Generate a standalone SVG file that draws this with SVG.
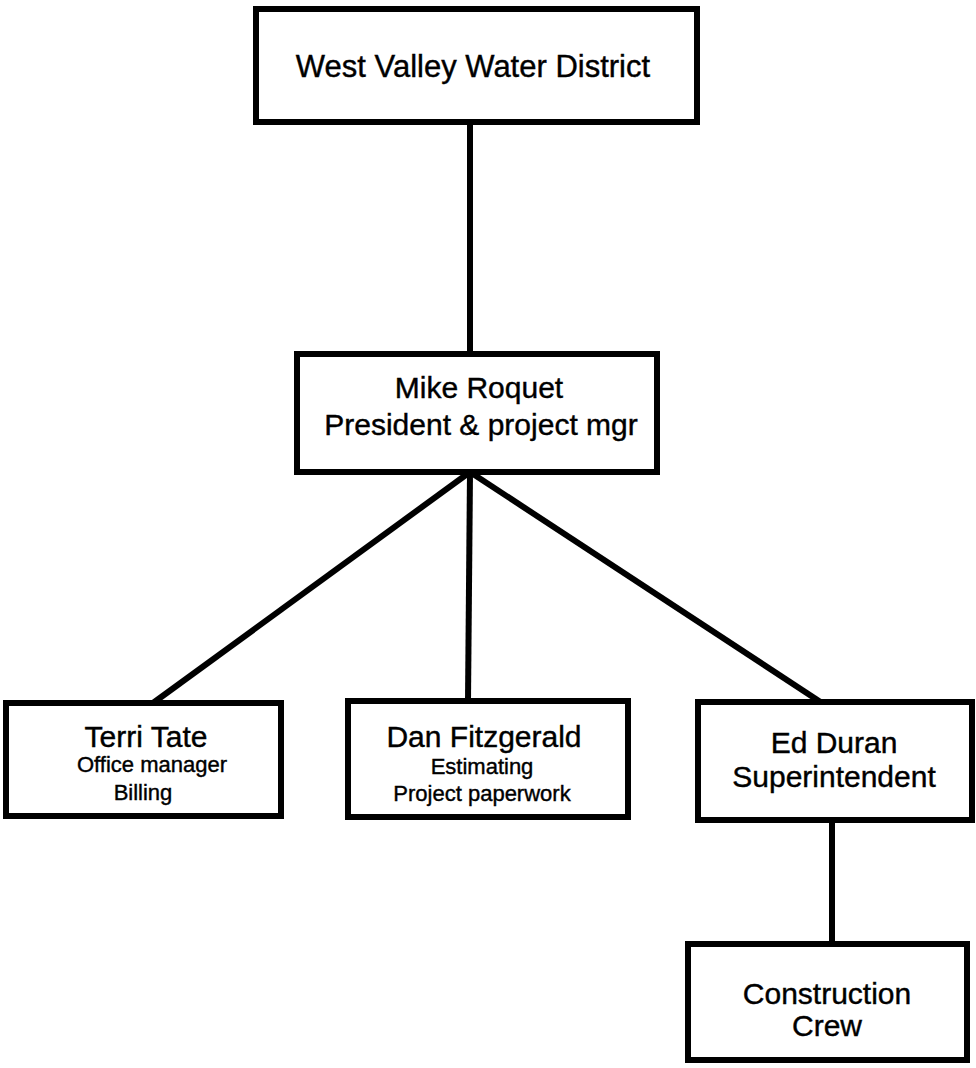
<svg xmlns="http://www.w3.org/2000/svg" width="976" height="1068" viewBox="0 0 976 1068">
<style>
.box{fill:#fff;stroke:#000;stroke-width:6}
.ln{stroke:#000;stroke-width:6;fill:none}
text{font-family:"Liberation Sans",Arial,Helvetica,sans-serif;fill:#000;stroke:#000;stroke-width:0.4;text-anchor:middle}
.big{font-size:30px}
.sm{font-size:22px}
.top{font-size:31px}
</style>
<rect width="976" height="1068" fill="#fff"/>
<g id="connectors">
<line class="ln" x1="470" y1="122" x2="470" y2="354"/>
<line class="ln" x1="470" y1="472" x2="153" y2="703"/>
<line class="ln" x1="470" y1="472" x2="468" y2="701"/>
<line class="ln" x1="470" y1="472" x2="822" y2="703"/>
<line class="ln" x1="832" y1="820" x2="832" y2="944"/>
</g>
<g id="west-valley">
<rect class="box" x="256" y="9" width="441" height="113"/>
<text class="top" x="473" y="77">West Valley Water District</text>
</g>
<g id="mike-roquet">
<rect class="box" x="297" y="354" width="360" height="118"/>
<text class="big" x="479" y="398">Mike Roquet</text>
<text class="big" x="481" y="435">President &amp; project mgr</text>
</g>
<g id="terri-tate">
<rect class="box" x="6" y="703" width="275" height="113"/>
<text class="big" x="146" y="747">Terri Tate</text>
<text class="sm" x="152" y="772">Office manager</text>
<text class="sm" x="143" y="800">Billing</text>
</g>
<g id="dan-fitzgerald">
<rect class="box" x="348" y="701" width="280" height="116"/>
<text class="big" x="484" y="747">Dan Fitzgerald</text>
<text class="sm" x="482" y="774">Estimating</text>
<text class="sm" x="482" y="801">Project paperwork</text>
</g>
<g id="ed-duran">
<rect class="box" x="698" y="702" width="274" height="118"/>
<text class="big" x="834" y="753">Ed Duran</text>
<text class="big" x="834" y="787">Superintendent</text>
</g>
<g id="construction-crew">
<rect class="box" x="688" y="944" width="279" height="116"/>
<text class="big" x="827" y="1004">Construction</text>
<text class="big" x="827" y="1036">Crew</text>
</g>
</svg>
